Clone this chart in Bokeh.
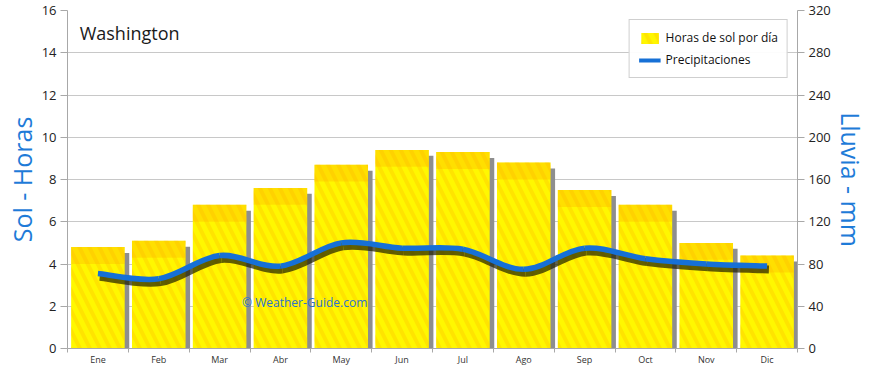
from bokeh.plotting import figure
from bokeh.models import (Range1d, LinearAxis, FixedTicker, Label, Legend, LegendItem,
                          ColumnDataSource)
from bokeh.transform import dodge
from bokeh.embed import file_html
from bokeh.resources import INLINE

# ---------------- data ----------------
months = ["Ene", "Feb", "Mar", "Abr", "May", "Jun", "Jul", "Ago", "Sep", "Oct", "Nov", "Dic"]
month_pos = [1, 2, 3, 4, 5, 6, 7, 8, 9, 10, 11, 12]
sun_hours = [4.8, 5.1, 6.8, 7.6, 8.7, 9.4, 9.3, 8.8, 7.5, 6.8, 5.0, 4.4]
rain_mm = [71, 66, 88, 78, 100, 95, 94, 75, 95, 85, 80, 78]
left_ticks = [0, 2, 4, 6, 8, 10, 12, 14, 16]
right_ticks = [0, 40, 80, 120, 160, 200, 240, 280, 320]
title_text = "Washington"
sun_label = "Horas de sol por día"
rain_label = "Precipitaciones"

FONT = "Open Sans"
BLUE = "#1670D6"
LABEL_BLUE = "#1E7BD8"

p = figure(width=870, height=368, x_range=Range1d(0.5, 12.5), y_range=Range1d(0, 16),
           output_backend="svg", toolbar_location=None,
           min_border_left=67, min_border_right=70, min_border_top=10, min_border_bottom=0)
p.extra_y_ranges = {"rain": Range1d(0, 320)}
p.outline_line_color = None
p.background_fill_color = "white"
p.border_fill_color = "white"

# grid
p.xgrid.grid_line_color = None
p.ygrid.ticker = FixedTicker(ticks=left_ticks)
p.ygrid.grid_line_color = "#C8C8C8"
p.ygrid.grid_line_width = 1

# left axis
yax = p.yaxis[0]
yax.ticker = FixedTicker(ticks=left_ticks)
yax.axis_label = "Sol - Horas"
yax.axis_label_text_font = FONT
yax.axis_label_text_font_size = "25px"
yax.axis_label_text_font_style = "normal"
yax.axis_label_text_color = LABEL_BLUE
yax.axis_label_standoff = 0
yax.major_label_text_font = FONT
yax.major_label_text_font_size = "13px"
yax.major_label_text_color = "#222222"
yax.major_label_standoff = 4
yax.axis_line_color = "#A8A8A8"
yax.major_tick_line_color = "#A8A8A8"
yax.major_tick_out = 7
yax.major_tick_in = 0
yax.minor_tick_line_color = None

# right axis
rax = LinearAxis(y_range_name="rain", ticker=FixedTicker(ticks=right_ticks),
                 axis_label="Lluvia - mm")
rax.axis_label_text_font = FONT
rax.axis_label_text_font_size = "25px"
rax.axis_label_text_font_style = "normal"
rax.axis_label_text_color = LABEL_BLUE
rax.axis_label_standoff = 0
rax.major_label_text_font = FONT
rax.major_label_text_font_size = "13px"
rax.major_label_text_color = "#222222"
rax.major_label_standoff = 4
rax.axis_line_color = "#A8A8A8"
rax.major_tick_line_color = "#A8A8A8"
rax.major_tick_out = 7
rax.major_tick_in = 0
rax.minor_tick_line_color = None
p.add_layout(rax, "right")

# x axis: labels at month centres, tick marks at boundaries
xax = p.xaxis[0]
xax.ticker = FixedTicker(ticks=month_pos, minor_ticks=[m - 0.5 for m in month_pos] + [month_pos[-1] + 0.5])
xax.major_label_overrides = {m: lab for m, lab in zip(month_pos, months)}
xax.major_tick_line_color = None
xax.major_tick_out = 0
xax.major_tick_in = 0
xax.minor_tick_line_color = "#A8A8A8"
xax.minor_tick_out = 4
xax.minor_tick_in = 0
xax.axis_line_color = "#A8A8A8"
xax.major_label_text_font = FONT
xax.major_label_text_font_size = "9px"
xax.major_label_text_color = "#333333"
xax.major_label_standoff = 0

# ---------------- bars ----------------
src = ColumnDataSource(dict(
    x=month_pos,
    sun=sun_hours,
    shadow_top=[v - 0.28 for v in sun_hours],
    band_bottom=[v - 0.8 for v in sun_hours],
))
p.vbar(x=dodge("x", 0.075, range=p.x_range), top="shadow_top", width=0.88, source=src,
       fill_color="#8E8E8E", line_color=None)
bars = p.vbar(x="x", top="sun", width=0.88, source=src,
              fill_color="#FFF700", line_color=None,
              hatch_pattern="left_diagonal_line", hatch_color="#FFB800",
              hatch_alpha=0.3, hatch_scale=20, hatch_weight=4)
p.vbar(x="x", bottom="band_bottom", top="sun", width=0.88, source=src,
       fill_color="#FFA800", fill_alpha=0.3, line_color=None)

# ---------------- smooth rain line (Catmull-Rom -> Bezier) ----------------
xs = month_pos
ys = rain_mm
n = len(xs)
x0, y0, x1, y1, cx0, cy0, cx1, cy1 = [], [], [], [], [], [], [], []
for i in range(n - 1):
    xm, ym = (xs[i - 1], ys[i - 1]) if i > 0 else (xs[i], ys[i])
    xp, yp = (xs[i + 2], ys[i + 2]) if i + 2 < n else (xs[i + 1], ys[i + 1])
    x0.append(xs[i]); y0.append(ys[i])
    x1.append(xs[i + 1]); y1.append(ys[i + 1])
    cx0.append(xs[i] + (xs[i + 1] - xm) / 6.0)
    cy0.append(ys[i] + (ys[i + 1] - ym) / 6.0)
    cx1.append(xs[i + 1] - (xp - xs[i]) / 6.0)
    cy1.append(ys[i + 1] - (yp - ys[i]) / 6.0)

dx, dy = 0.03, -3.2
p.bezier(x0=[v + dx for v in x0], y0=[v + dy for v in y0], x1=[v + dx for v in x1], y1=[v + dy for v in y1],
         cx0=[v + dx for v in cx0], cy0=[v + dy for v in cy0], cx1=[v + dx for v in cx1], cy1=[v + dy for v in cy1],
         line_color="#1E1E00", line_alpha=0.7, line_width=8, y_range_name="rain")
p.bezier(x0=x0, y0=y0, x1=x1, y1=y1, cx0=cx0, cy0=cy0, cx1=cx1, cy1=cy1,
         line_color=BLUE, line_width=5.5, y_range_name="rain")
nan = float("nan")
rain_legend = p.line(x=[nan, nan], y=[nan, nan], line_color=BLUE, line_width=4, y_range_name="rain")

# ---------------- legend ----------------
legend = Legend(items=[LegendItem(label=sun_label, renderers=[bars]),
                       LegendItem(label=rain_label, renderers=[rain_legend])],
                location="top_right")
legend.margin = 9
legend.padding = 9
legend.spacing = 5
legend.border_line_color = "#A0A0A0"
legend.border_line_width = 1
legend.background_fill_color = "white"
legend.label_text_font = FONT
legend.label_text_font_size = "12px"
legend.label_text_color = "#111111"
legend.glyph_width = 22
legend.glyph_height = 14
legend.label_standoff = 5
p.add_layout(legend)

# ---------------- texts ----------------
p.add_layout(Label(x=0.7, y=14.95, text=title_text, text_font=FONT, text_font_size="18px",
                   text_color="#1A1A1A", text_baseline="middle"))
p.add_layout(Label(x=3.37, y=2.2, text="©  Weather-Guide.com", text_font=FONT,
                   text_font_size="12px", text_color="#2A72D0", text_baseline="middle"))

open("out.html", "w").write(file_html(p, INLINE))
